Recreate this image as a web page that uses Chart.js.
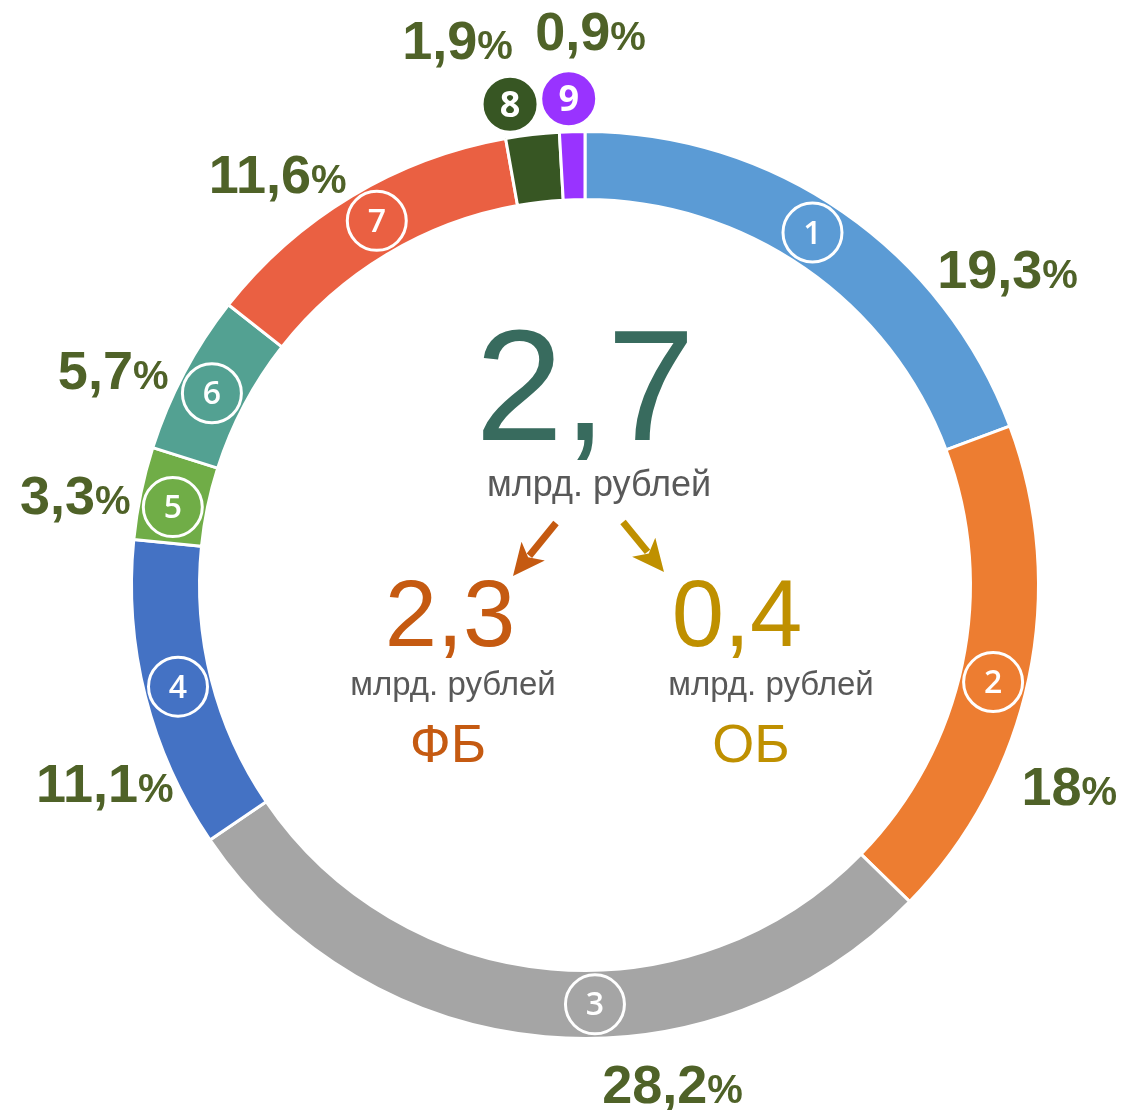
<!DOCTYPE html>
<html>
<head>
<meta charset="utf-8">
<script src="https://cdn.jsdelivr.net/npm/chart.js@4"></script>
<style>
  html, body { margin: 0; padding: 0; background: #fff; }
  #wrap { width: 1122px; height: 1110px; position: relative; }
</style>
</head>
<body>
<div id="wrap"><canvas id="chart"></canvas></div>
<script>
// доли по направлениям, %
const numbers = ['1', '2', '3', '4', '5', '6', '7', '8', '9'];
const shares = [19.3, 18, 28.2, 11.1, 3.3, 5.7, 11.6, 1.9, 0.9];
const shareLabels = ['19,3', '18', '28,2', '11,1', '3,3', '5,7', '11,6', '1,9', '0,9'];
const colors = ['#5B9BD5', '#ED7D31', '#A5A5A5', '#4472C4', '#70AD47', '#53A192', '#EA6042', '#375623', '#9933FF'];

// итог и разбивка по бюджетам
const total = '2,7';
const fb = '2,3';
const ob = '0,4';
const unit = 'млрд. рублей';

// сдвиги подписей (градусы, пиксели от внешнего края)
const labelShift = [18.5, 10.7, -15, -8.2, -1.7, -3.4, -5.8, -6.5, 2.2];
const labelGap = [74, 71, 53, 66, 64, 65, 60, 106, 101];
const badgeShift = [-1.9, 1.5, -6.4, 0.2, -1, -0.7, 1.2, -2.2, -0.3];

const FONT = "'Liberation Sans', Arial, sans-serif";
const rad = d => d * Math.PI / 180;

function arrow(ctx, x1, y1, x2, y2, color) {
    const a = Math.atan2(y2 - y1, x2 - x1);
    const head = 32, wing = 15;
    const bx = x2 - head * Math.cos(a), by = y2 - head * Math.sin(a);
    ctx.strokeStyle = color;
    ctx.lineWidth = 7;
    ctx.beginPath();
    ctx.moveTo(x1, y1);
    ctx.lineTo(bx + 6 * Math.cos(a), by + 6 * Math.sin(a));
    ctx.stroke();
    ctx.fillStyle = color;
    ctx.beginPath();
    ctx.moveTo(x2, y2);
    ctx.lineTo(bx + wing * Math.sin(a), by - wing * Math.cos(a));
    ctx.lineTo(bx + 8 * Math.cos(a), by + 8 * Math.sin(a));
    ctx.lineTo(bx - wing * Math.sin(a), by + wing * Math.cos(a));
    ctx.closePath();
    ctx.fill();
}

const decor = {
    id: 'decor',
    afterDraw(chart) {
        const ctx = chart.ctx;
        const arcs = chart.getDatasetMeta(0).data;
        const cx = arcs[0].x, cy = arcs[0].y;
        const outer = arcs[0].outerRadius, inner = arcs[0].innerRadius;
        ctx.save();

        // центр
        ctx.textAlign = 'center';
        ctx.textBaseline = 'alphabetic';
        ctx.fillStyle = '#386B5E';
        ctx.font = '158px ' + FONT;
        ctx.fillText(total, cx, cy - 145);
        ctx.fillStyle = '#595959';
        ctx.font = '36px ' + FONT;
        ctx.fillText(unit, cx + 14, cy - 89);

        ctx.fillStyle = '#C55A11';
        ctx.font = '94px ' + FONT;
        ctx.fillText(fb, cx - 135, cy + 61);
        ctx.font = '54px ' + FONT;
        ctx.fillText('ФБ', cx - 137, cy + 177);
        ctx.fillStyle = '#BF9000';
        ctx.font = '94px ' + FONT;
        ctx.fillText(ob, cx + 152, cy + 61);
        ctx.font = '54px ' + FONT;
        ctx.fillText('ОБ', cx + 166, cy + 177);
        ctx.fillStyle = '#595959';
        ctx.font = '33px ' + FONT;
        ctx.fillText(unit, cx - 132, cy + 110);
        ctx.fillText(unit, cx + 186, cy + 110);

        arrow(ctx, cx - 29, cy - 62, cx - 72, cy - 9, '#C55A11');
        arrow(ctx, cx + 38, cy - 63, cx + 79, cy - 13, '#BF9000');

        arcs.forEach((arc, i) => {
            const mid = (arc.startAngle + arc.endAngle) / 2;
            // кружок с номером
            const outside = i >= 7;
            const br = outside ? outer + 33 : (outer + inner) / 2;
            const ba = mid + rad(badgeShift[i]);
            const bx = cx + br * Math.cos(ba), by = cy + br * Math.sin(ba);
            ctx.beginPath();
            ctx.arc(bx, by, outside ? 28 : 29.5, 0, Math.PI * 2);
            ctx.fillStyle = colors[i];
            ctx.fill();
            ctx.lineWidth = 3;
            ctx.strokeStyle = '#fff';
            ctx.stroke();
            ctx.fillStyle = '#fff';
            ctx.textAlign = 'center';
            ctx.textBaseline = 'middle';
            ctx.font = (outside ? 'bold 36px ' : '600 32px ') + "'Open Sans', sans-serif";
            ctx.fillText(numbers[i], bx, by + 2);

            // процент
            const la = mid + rad(labelShift[i]);
            const lr = outer + labelGap[i];
            const lx = cx + lr * Math.cos(la), ly = cy + lr * Math.sin(la);
            ctx.textBaseline = 'alphabetic';
            ctx.textAlign = 'left';
            ctx.font = 'bold 54px ' + FONT;
            const w1 = ctx.measureText(shareLabels[i]).width;
            ctx.font = 'bold 40px ' + FONT;
            const w2 = ctx.measureText('%').width;
            const x0 = lx - (w1 + w2) / 2;
            const base = ly + 19;
            ctx.fillStyle = '#4F6228';
            ctx.font = 'bold 54px ' + FONT;
            ctx.fillText(shareLabels[i], x0, base);
            ctx.font = 'bold 40px ' + FONT;
            ctx.fillText('%', x0 + w1, base);
        });
        ctx.restore();
    }
};

new Chart(document.getElementById('chart'), {
    type: 'doughnut',
    data: {
        labels: numbers,
        datasets: [{
            data: shares,
            backgroundColor: colors,
            borderColor: '#ffffff',
            borderWidth: 3,
        }],
    },
    options: {
        responsive: true,
        maintainAspectRatio: false,
        animation: false,
        cutout: '85%',
        layout: { padding: { left: 130, right: 82, top: 130, bottom: 70 } },
        plugins: {
            legend: { display: false },
            tooltip: { enabled: false },
        },
        events: [],
    },
    plugins: [decor],
});
</script>
</body>
</html>
